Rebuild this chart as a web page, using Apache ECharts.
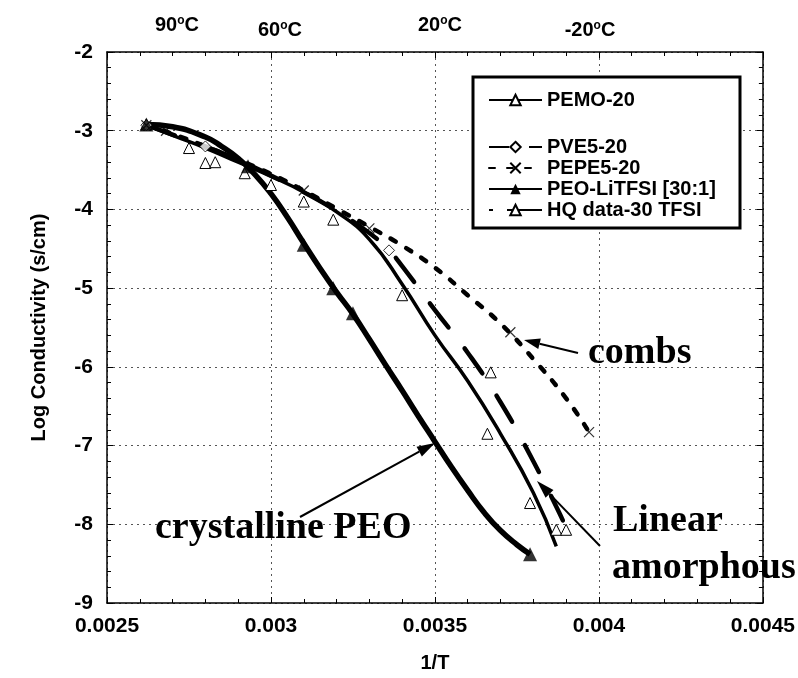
<!DOCTYPE html>
<html><head><meta charset="utf-8">
<script src="https://cdn.jsdelivr.net/npm/echarts@6/dist/echarts.min.js"></script>
<style>html,body{margin:0;padding:0;background:#fff}#c{width:798px;height:678px}</style>
</head><body><div id="c"></div>
<script>
// ---- data ----
const seriesNames = ['PEMO-20', 'PVE5-20', 'PEPE5-20', 'PEO-LiTFSI [30:1]', 'HQ data-30 TFSI'];
const pemo20 = [[0.00262,-2.93],[0.0027,-3.06],[0.0028,-3.22],[0.0029,-3.4],[0.003,-3.58],[0.0031,-3.78],[0.0032,-4.03],[0.0033,-4.38],[0.0034,-4.95],[0.0035,-5.6],[0.0036,-6.18],[0.0037,-6.85],[0.0038,-7.6],[0.00387,-8.28]];
const pve520 = [[0.00262,-2.93],[0.0027,-3.05],[0.0028,-3.2],[0.0029,-3.37],[0.003,-3.57],[0.0031,-3.78],[0.0032,-4.02],[0.0033,-4.3],[0.00336,-4.52],[0.0034,-4.72],[0.0035,-5.28],[0.0036,-5.82],[0.0037,-6.45],[0.0038,-7.2],[0.00389,-7.95]];
const pve520Marks = [[0.00262,-2.93],[0.0028,-3.2],[0.00336,-4.52]];
const pepe520 = [[0.00262,-2.93],[0.0027,-3.04],[0.0028,-3.2],[0.0029,-3.37],[0.003,-3.55],[0.0031,-3.76],[0.0032,-3.99],[0.0033,-4.22],[0.0034,-4.46],[0.0035,-4.74],[0.0036,-5.09],[0.0037,-5.45],[0.0038,-5.9],[0.0039,-6.4],[0.00397,-6.83]];
const pepe520Marks = [[0.00262,-2.93],[0.00268,-3.0],[0.0031,-3.76],[0.0033,-4.24],[0.00373,-5.56],[0.00397,-6.83]];
const peoLiTFSI = [[0.00262,-2.92],[0.0027,-2.95],[0.0028,-3.08],[0.00285,-3.2],[0.0029,-3.35],[0.00295,-3.55],[0.003,-3.8],[0.00305,-4.1],[0.0031,-4.43],[0.00315,-4.75],[0.0032,-5.05],[0.00325,-5.33],[0.0033,-5.65],[0.00335,-5.98],[0.0034,-6.3],[0.00345,-6.63],[0.0035,-6.95],[0.00355,-7.27],[0.0036,-7.57],[0.00365,-7.85],[0.0037,-8.08],[0.00375,-8.26],[0.00379,-8.38]];
const peoLiTFSIMarks = [[0.00262,-2.92],[0.00293,-3.45],[0.0031,-4.45],[0.00319,-5.0],[0.00325,-5.32],[0.00379,-8.38]];
const hqData30 = [[0.00262,-2.92],[0.00275,-3.22],[0.0028,-3.41],[0.00283,-3.4],[0.00292,-3.54],[0.003,-3.69],[0.0031,-3.9],[0.00319,-4.13],[0.0034,-5.09],[0.00367,-6.07],[0.00366,-6.85],[0.00379,-7.73],[0.00387,-8.07],[0.0039,-8.07]];
const xRange = [0.0025, 0.0045, 0.0005];
const yRange = [-9, -2, 1];
const tempLabels = ['90', '60', '20', '-20'];

// ---- chart ----
const FS = 'Liberation Sans, Arial, sans-serif';
const SERIF = 'Liberation Serif, Times New Roman, serif';
const chart = echarts.init(document.getElementById('c'), null, {renderer: 'canvas'});
const fmtX = v => String(parseFloat(v.toFixed(4)));
function xAx(pos, labels) {
  return {
    type: 'value', position: pos, min: xRange[0], max: xRange[1], interval: xRange[2],
    axisLine: {show: true, onZero: false, lineStyle: {color: '#000', width: 1.5}},
    axisTick: {show: true, inside: true, length: 6, lineStyle: {color: '#000'}},
    minorTick: {show: true, splitNumber: 5, length: 4, lineStyle: {color: '#000'}},
    axisLabel: {show: labels, formatter: fmtX, color: '#000', fontFamily: FS, fontWeight: 'bold', fontSize: 21, margin: 13},
    splitLine: {show: labels, lineStyle: {color: '#555', type: [2, 4], width: 1}},
    name: labels ? '1/T' : '', nameLocation: 'middle', nameGap: 50,
    nameTextStyle: {color: '#000', fontFamily: FS, fontWeight: 'bold', fontSize: 20}
  };
}
function yAx(pos, labels) {
  return {
    type: 'value', position: pos, min: yRange[0], max: yRange[1], interval: yRange[2],
    axisLine: {show: true, onZero: false, lineStyle: {color: '#000', width: 1.5}},
    axisTick: {show: true, inside: true, length: 6, lineStyle: {color: '#000'}},
    minorTick: {show: true, splitNumber: 5, length: 4, lineStyle: {color: '#000'}},
    axisLabel: {show: labels, color: '#000', fontFamily: FS, fontWeight: 'bold', fontSize: 21, margin: 14},
    splitLine: {show: labels, lineStyle: {color: '#555', type: [2, 4], width: 1}},
    name: labels ? 'Log Conductivity (s/cm)' : '', nameLocation: 'middle', nameGap: 58,
    nameTextStyle: {color: '#000', fontFamily: FS, fontWeight: 'bold', fontSize: 20}
  };
}
function arrow(x1, y1, x2, y2, w, hl, hw) {
  const dx = x2 - x1, dy = y2 - y1, L = Math.hypot(dx, dy), ux = dx / L, uy = dy / L;
  const bx = x2 - ux * hl, by = y2 - uy * hl;
  return [
    {type: 'line', z: 30, shape: {x1, y1, x2: bx, y2: by}, style: {stroke: '#000', lineWidth: w}},
    {type: 'polygon', z: 30, shape: {points: [[x2, y2], [bx - uy * hw / 2, by + ux * hw / 2], [bx + uy * hw / 2, by - ux * hw / 2]]}, style: {fill: '#000'}}
  ];
}
const tempPos = [[177, 25], [280, 30], [440, 25], [590, 30]];
const legendText = {color: '#000', fontFamily: FS, fontWeight: 'bold', fontSize: 20};
const option = {
  animation: false,
  backgroundColor: '#fff',
  grid: {left: 107, right: 31, top: 52, bottom: 71, containLabel: false},
  xAxis: [xAx('bottom', true), xAx('top', false)],
  yAxis: [yAx('left', true), yAx('right', false)],
  legend: [
    {data: [seriesNames[0]], left: 483, top: 85, itemWidth: 53, itemHeight: 13, z: 20, textStyle: legendText, selectedMode: false},
    {data: [{name: seriesNames[1], lineStyle: {type: [20, 20, 13, 0], cap: 'butt'}}, seriesNames[2], seriesNames[3],
            {name: seriesNames[4], lineStyle: {width: 2, type: [4, 14, 34, 0], opacity: 1}}],
     orient: 'vertical', left: 483, top: 132, itemGap: 1, itemWidth: 53, itemHeight: 13, z: 20, textStyle: legendText, selectedMode: false}
  ],
  series: [
    {name: seriesNames[0], type: 'line', data: pemo20, smooth: true, showSymbol: false, symbol: 'triangle', symbolSize: 11,
     itemStyle: {color: '#fff', borderColor: '#000', borderWidth: 1}, lineStyle: {color: '#000', width: 3.5}, z: 3},
    {name: seriesNames[1], type: 'line', data: pve520, smooth: true, showSymbol: false, symbol: 'diamond', symbolSize: 11,
     itemStyle: {color: '#fff', borderColor: '#000', borderWidth: 1}, lineStyle: {color: '#000', width: 4.5, type: [30, 27], cap: 'round'}, z: 3},
    {name: seriesNames[2], type: 'line', data: pepe520, smooth: true, showSymbol: false, symbol: 'path://M0,0L10,10M10,0L0,10', symbolSize: 9,
     itemStyle: {color: 'none', borderColor: '#000', borderWidth: 1}, lineStyle: {color: '#000', width: 4.5, type: [6, 12], cap: 'round'}, z: 3},
    {name: seriesNames[3], type: 'line', data: peoLiTFSI, smooth: true, showSymbol: false, symbol: 'triangle', symbolSize: 13,
     itemStyle: {color: '#000'}, lineStyle: {color: '#000', width: 5.5}, z: 3},
    {name: seriesNames[4], type: 'line', data: hqData30, showSymbol: true, symbol: 'triangle', symbolSize: 11,
     itemStyle: {color: '#fff', borderColor: '#000', borderWidth: 1}, lineStyle: {color: '#000', width: 0}, z: 5},
    {name: 'pve-marks', type: 'scatter', data: pve520Marks, symbol: 'diamond', symbolSize: 11,
     itemStyle: {color: '#fff', borderColor: '#000', borderWidth: 1}, z: 6},
    {name: 'pepe-marks', type: 'scatter', data: pepe520Marks, symbol: 'path://M0,0L10,10M10,0L0,10', symbolSize: 10,
     itemStyle: {color: 'none', borderColor: '#000', borderWidth: 1.2}, z: 6},
    {name: 'peo-marks', type: 'scatter', data: peoLiTFSIMarks, symbol: 'triangle', symbolSize: 14,
     itemStyle: {color: '#000'}, z: 6}
  ],
  graphic: [
    {type: 'rect', z: 10, shape: {x: 473, y: 77, width: 267, height: 151}, style: {fill: '#fff', stroke: '#000', lineWidth: 3}},
    ...tempLabels.map((t, i) => ({type: 'text', z: 20, x: tempPos[i][0], y: tempPos[i][1], style: {
      text: '{n|' + t + '}{o|o}{n|C}', align: 'center', verticalAlign: 'middle', fill: '#000',
      rich: {n: {fontSize: 20, fontWeight: 'bold', fontFamily: FS, fill: '#000'},
             o: {fontSize: 12, fontWeight: 'bold', fontFamily: FS, fill: '#000', verticalAlign: 'top'}}}})),
    {type: 'text', z: 20, x: 588, y: 353, style: {text: 'combs', fill: '#000', font: 'bold 38px ' + SERIF, verticalAlign: 'middle'}},
    {type: 'text', z: 20, x: 155, y: 528, style: {text: 'crystalline PEO', fill: '#000', font: 'bold 38px ' + SERIF, verticalAlign: 'middle'}},
    {type: 'text', z: 20, x: 613, y: 521, style: {text: 'Linear', fill: '#000', font: 'bold 38px ' + SERIF, verticalAlign: 'middle'}},
    {type: 'text', z: 20, x: 612, y: 568, style: {text: 'amorphous', fill: '#000', font: 'bold 38px ' + SERIF, verticalAlign: 'middle'}},
    ...arrow(578, 353, 524, 340, 2, 16, 11),
    ...arrow(300, 517, 435, 443, 2, 18, 11),
    ...arrow(600, 546, 537, 481, 2, 18, 11)
  ]
};
chart.setOption(option);
</script></body></html>
